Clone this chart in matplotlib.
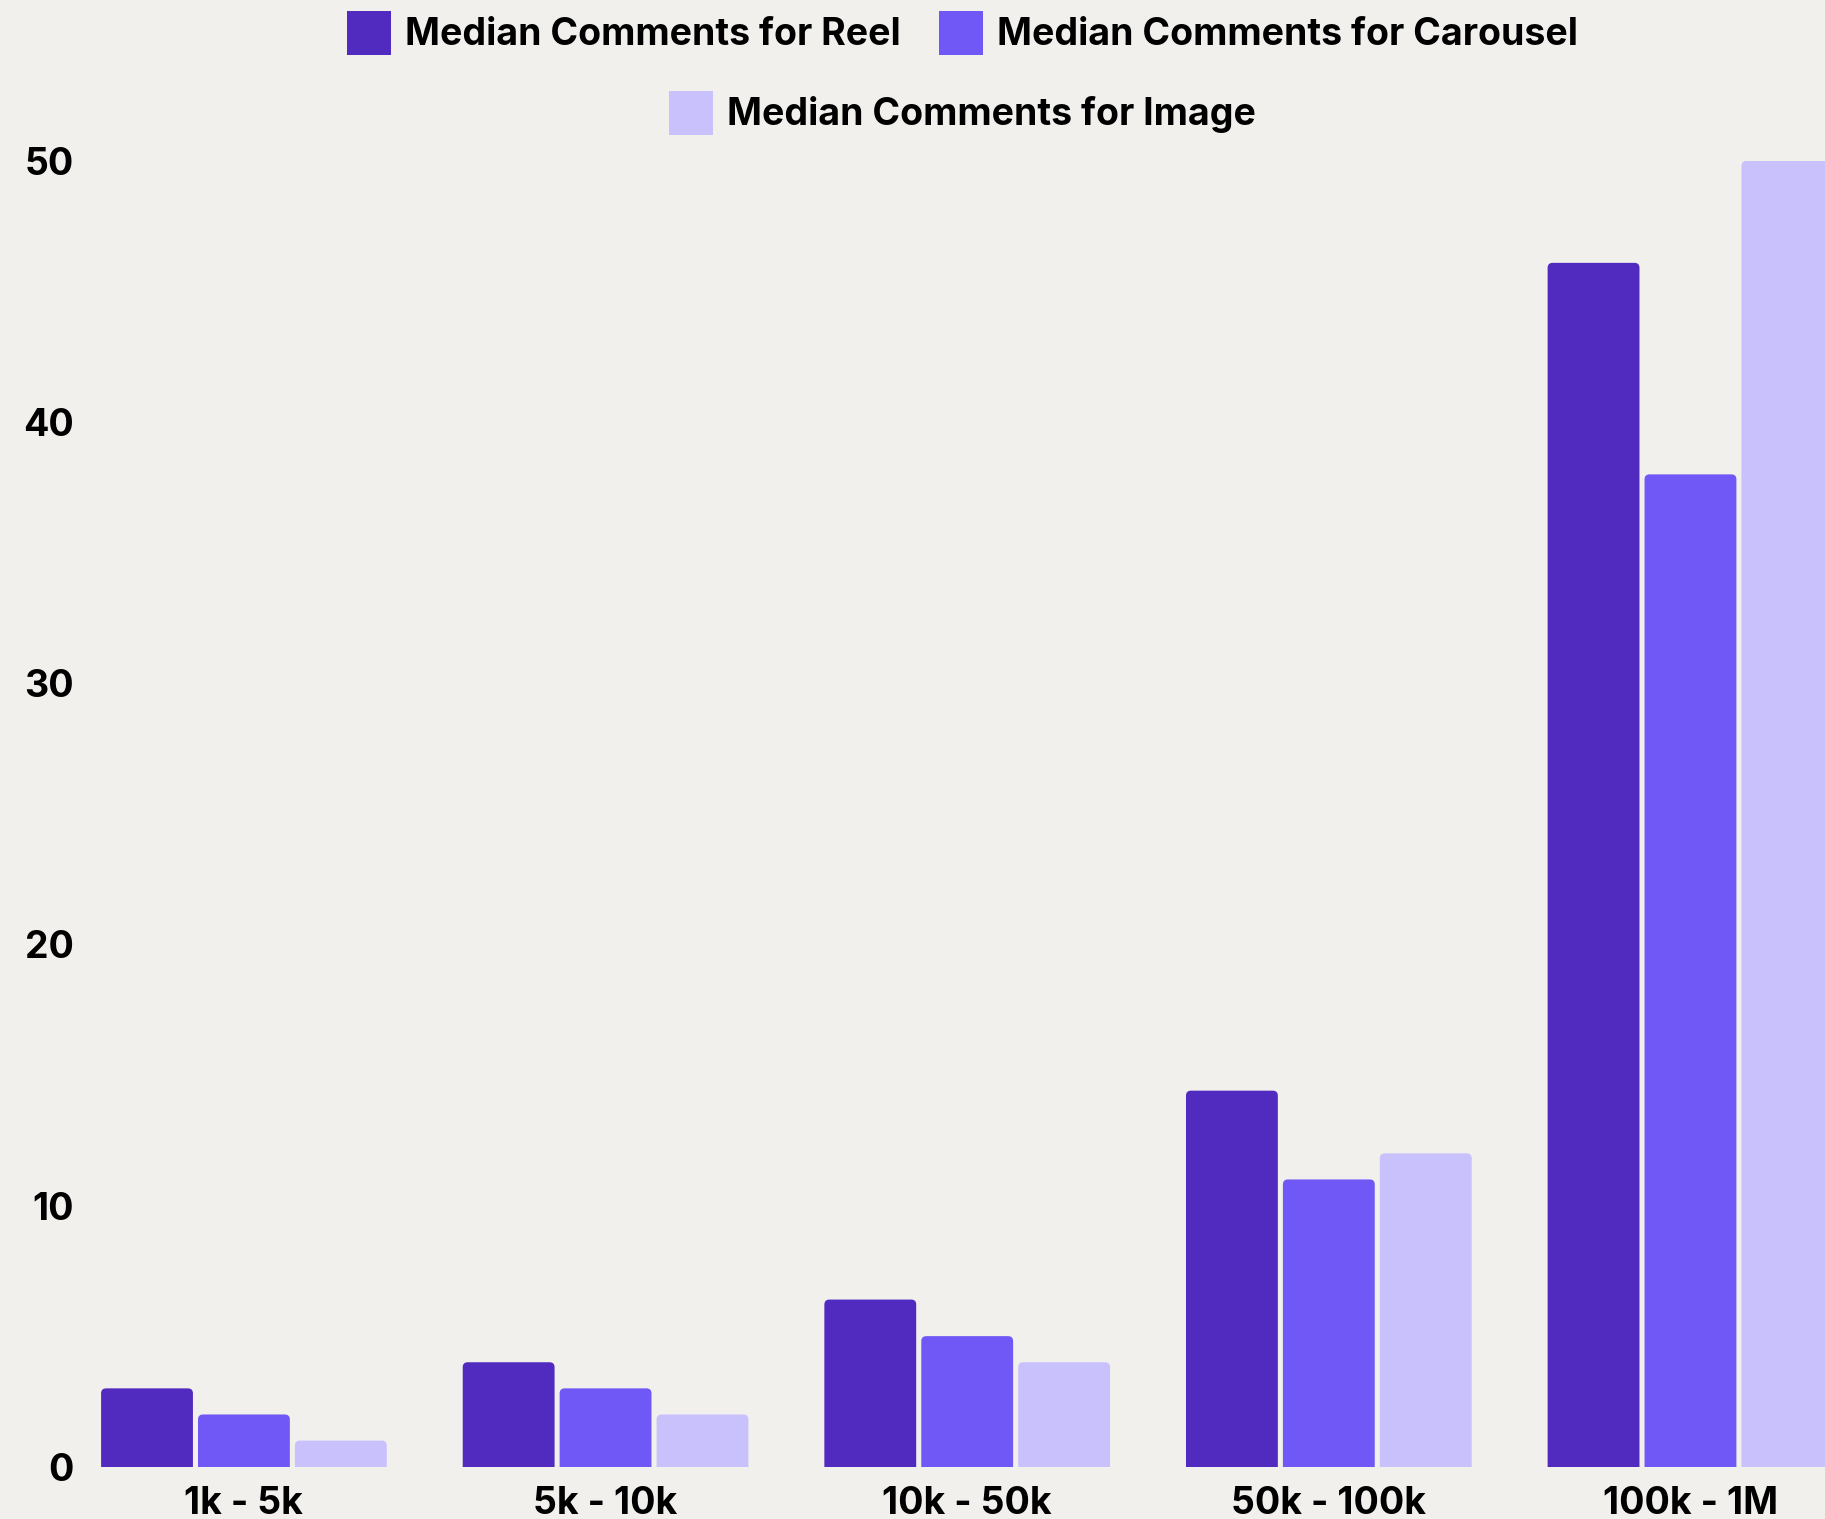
import matplotlib
matplotlib.use("Agg")
import matplotlib.pyplot as plt
import numpy as np
from matplotlib.patches import FancyBboxPatch, Patch

# Data
categories = ["1k - 5k", "5k - 10k", "10k - 50k", "50k - 100k", "100k - 1M"]
reel = [3, 4, 6.4, 14.4, 46.1]
carousel = [2, 3, 5, 11, 38]
image = [1, 2, 4, 12, 50]
series_names = ["Median Comments for Reel", "Median Comments for Carousel",
                "Median Comments for Image"]
y_ticks = [0, 10, 20, 30, 40, 50]

colors = ["#512BBF", "#7058F7", "#C9C1FC"]
bg = "#F1F0EC"
fs = 27

plt.rcParams["font.family"] = ["Inter", "DejaVu Sans"]
plt.rcParams["font.weight"] = "bold"

W, H = 1825, 1519
fig = plt.figure(figsize=(W / 100, H / 100), dpi=100, facecolor=bg)

ax_left, ax_bottom, ax_top = 100, 52.3, 1358
ax = fig.add_axes([ax_left / W, ax_bottom / H, (W - ax_left) / W, (ax_top - ax_bottom) / H])
ax.set_facecolor(bg)

x = np.arange(len(categories))
step = 0.268
width = 0.254
xlim = (-0.398, 4.372)
ylim = (0, 50)
ax.set_xlim(*xlim)
ax.set_ylim(*ylim)

# pixel scale of data units, used to keep corner rounding circular
px_per_x = (W - ax_left) / (xlim[1] - xlim[0])
px_per_y = (ax_top - ax_bottom) / (ylim[1] - ylim[0])
aspect = px_per_x / px_per_y
radius_px = 5
r = radius_px / px_per_x

for i, (vals, col) in enumerate(zip([reel, carousel, image], colors)):
    bars = ax.bar(x + (i - 1) * step, vals, width=width, color=col)
    for b in bars:
        bx, by = b.get_x(), b.get_y()
        bw, bh = b.get_width(), b.get_height()
        b.set_visible(False)
        # extend below zero so only the top corners are rounded after clipping
        ext = radius_px / px_per_y * 1.5
        p = FancyBboxPatch((bx, by - ext), bw, bh + ext,
                           boxstyle=f"round,pad=0,rounding_size={r}",
                           mutation_aspect=aspect,
                           facecolor=col, edgecolor="none")
        ax.add_patch(p)

for s in ax.spines.values():
    s.set_visible(False)

ax.set_yticks(y_ticks)
ax.set_yticklabels([str(v) for v in y_ticks])
ax.set_xticks(x)
ax.set_xticklabels(categories)
ax.tick_params(axis="both", length=0, labelsize=fs, labelcolor="#000000")
ax.tick_params(axis="y", pad=19)
ax.tick_params(axis="x", pad=14)
for lbl in ax.get_xticklabels() + ax.get_yticklabels():
    lbl.set_fontweight("bold")

# Legend: two entries on the first row, one centred on the second
handles = [Patch(facecolor=c, edgecolor="none") for c in colors]
legend_kw = dict(frameon=False, handlelength=1.17, handleheight=1.43,
                 handletextpad=0.37, columnspacing=1.02, borderpad=0, loc="center",
                 prop={"weight": "bold", "size": fs})
cx = (ax_left + W) / 2 / W
leg1 = fig.legend(handles[:2], series_names[:2], ncol=2,
                  bbox_to_anchor=(cx, 1 - 33 / H), **legend_kw)
leg2 = fig.legend(handles[2:], series_names[2:], ncol=1,
                  bbox_to_anchor=(cx, 1 - 113 / H), **legend_kw)

fig.savefig("out.png", dpi=100, facecolor=bg)
